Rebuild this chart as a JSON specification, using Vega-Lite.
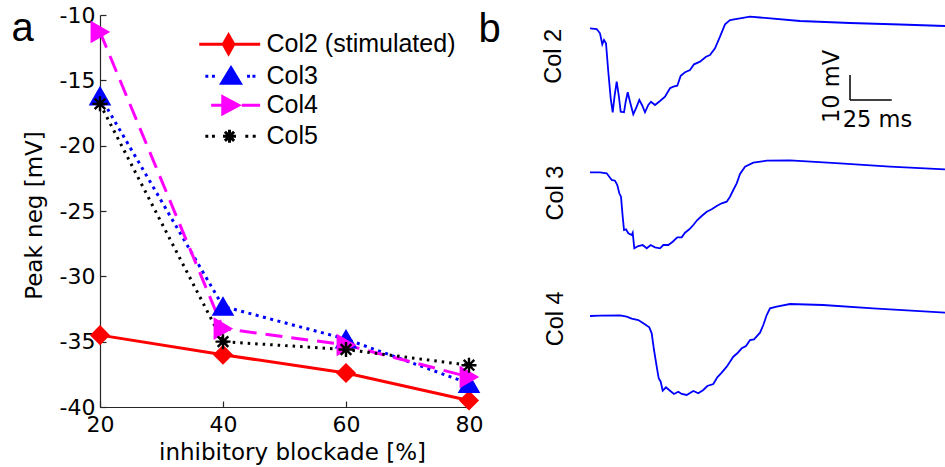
{
  "$schema": "https://vega.github.io/schema/vega-lite/v6.json",
  "autosize": {"type": "none"},
  "padding": {"left": 100, "top": 15, "right": 845, "bottom": 452},
  "background": "white",
  "config": {
    "view": {"stroke": null},
    "font": "DejaVu Sans",
    "axis": {
      "domainColor": "#262626", "domainWidth": 1.2, "tickColor": "#262626", "tickSize": -6, "tickWidth": 1.2,
      "labelFont": "DejaVu Sans", "labelFontSize": 22, "labelColor": "black",
      "titleFont": "DejaVu Sans", "titleFontSize": 23, "titleFontWeight": "normal", "titleColor": "black",
      "grid": false, "labelFlush": false, "labelOverlap": false
    }
  },
  "datasets": {
    "pa": [
      {"series": "Col2 (stimulated)", "blockade": 20, "peak": -34.5},
      {"series": "Col2 (stimulated)", "blockade": 40, "peak": -36.0},
      {"series": "Col2 (stimulated)", "blockade": 60, "peak": -37.4},
      {"series": "Col2 (stimulated)", "blockade": 80, "peak": -39.5},
      {"series": "Col3", "blockade": 20, "peak": -16.2},
      {"series": "Col3", "blockade": 40, "peak": -32.3},
      {"series": "Col3", "blockade": 60, "peak": -34.8},
      {"series": "Col3", "blockade": 80, "peak": -38.2},
      {"series": "Col4", "blockade": 20, "peak": -11.3},
      {"series": "Col4", "blockade": 40, "peak": -34.0},
      {"series": "Col4", "blockade": 60, "peak": -35.25},
      {"series": "Col4", "blockade": 80, "peak": -37.7},
      {"series": "Col5", "blockade": 20, "peak": -16.8},
      {"series": "Col5", "blockade": 40, "peak": -35.0},
      {"series": "Col5", "blockade": 60, "peak": -35.6},
      {"series": "Col5", "blockade": 80, "peak": -36.8}
    ],
    "panelA": [{"label": "a", "blockade": 5.61, "peak": -11.99}],
    "panelB": [{"label": "b", "t": -66.4, "v": -4.68}],
    "c2": [
      {"t": 0, "v": 0.68}, {"t": 3.99, "v": 0.4}, {"t": 5.95, "v": -1.32}, {"t": 7.32, "v": -5.72}, {"t": 8.33, "v": -4},
      {"t": 9.52, "v": -5.32}, {"t": 10.89, "v": -16.68}, {"t": 12.32, "v": -27.32}, {"t": 13.51, "v": -32.92}, {"t": 14.7, "v": -26},
      {"t": 15.89, "v": -20.68}, {"t": 17.08, "v": -26}, {"t": 18.27, "v": -32.68}, {"t": 20.24, "v": -32.92}, {"t": 21.25, "v": -28.68},
      {"t": 22.44, "v": -24.92}, {"t": 23.81, "v": -28.68}, {"t": 25.77, "v": -33.72}, {"t": 27.8, "v": -30.68}, {"t": 29.35, "v": -28},
      {"t": 30.95, "v": -30}, {"t": 32.74, "v": -32.92}, {"t": 34.7, "v": -30}, {"t": 36.31, "v": -28.68}, {"t": 38.69, "v": -30},
      {"t": 41.67, "v": -28.4}, {"t": 44.64, "v": -26.68}, {"t": 47.62, "v": -23.32}, {"t": 49.58, "v": -22.68}, {"t": 51.96, "v": -22.28},
      {"t": 53.99, "v": -18.28}, {"t": 56.55, "v": -16.92}, {"t": 59.52, "v": -16}, {"t": 61.9, "v": -13.72}, {"t": 65.48, "v": -12.68},
      {"t": 69.05, "v": -10.68}, {"t": 71.43, "v": -10}, {"t": 74.4, "v": -7.32}, {"t": 77.38, "v": -2.68}, {"t": 80.36, "v": 2.28},
      {"t": 83.33, "v": 4}, {"t": 89.29, "v": 4.68}, {"t": 95.24, "v": 5.32}, {"t": 101.19, "v": 5.0}, {"t": 125, "v": 3.6},
      {"t": 154.76, "v": 2.8}, {"t": 184.52, "v": 2.2}, {"t": 211.31, "v": 1.6}
    ],
    "c3": [
      {"t": 0, "v": 0.28}, {"t": 5.95, "v": 0.28}, {"t": 9.94, "v": -0.12}, {"t": 12.92, "v": -2.8}, {"t": 14.88, "v": -3.08},
      {"t": 16.25, "v": -4.8}, {"t": 17.44, "v": -8.12}, {"t": 18.45, "v": -9.48}, {"t": 19.46, "v": -17.48}, {"t": 20.24, "v": -22.8},
      {"t": 21.43, "v": -22.52}, {"t": 22.8, "v": -24.12}, {"t": 24.82, "v": -24.8}, {"t": 25.42, "v": -23.88}, {"t": 26.37, "v": -30.12},
      {"t": 28.75, "v": -29.2}, {"t": 31.37, "v": -28.8}, {"t": 33.75, "v": -30.12}, {"t": 36.13, "v": -28.8}, {"t": 38.69, "v": -29.72},
      {"t": 41.67, "v": -30.12}, {"t": 43.63, "v": -28.8}, {"t": 46.61, "v": -28.8}, {"t": 49.23, "v": -27.48}, {"t": 51.96, "v": -25.72},
      {"t": 54.58, "v": -25.72}, {"t": 56.55, "v": -23.88}, {"t": 59.11, "v": -22.52}, {"t": 61.49, "v": -20.8}, {"t": 63.87, "v": -18.8},
      {"t": 66.49, "v": -17.2}, {"t": 69.46, "v": -15.48}, {"t": 72.44, "v": -14.52}, {"t": 75.42, "v": -13.2}, {"t": 78.39, "v": -12.12},
      {"t": 81.37, "v": -11.48}, {"t": 83.33, "v": -9.48}, {"t": 85.3, "v": -6.8}, {"t": 87.32, "v": -4.12}, {"t": 89.29, "v": -0.4},
      {"t": 92.26, "v": 2.52}, {"t": 97.2, "v": 4.12}, {"t": 105.18, "v": 4.92}, {"t": 119.05, "v": 5.08}, {"t": 148.81, "v": 3.88},
      {"t": 178.57, "v": 2.52}, {"t": 211.31, "v": 1.48}
    ],
    "c4": [
      {"t": 0, "v": 0}, {"t": 5.95, "v": 0.12}, {"t": 17.86, "v": 0.28}, {"t": 21.85, "v": -0.28}, {"t": 24.82, "v": -1.08},
      {"t": 28.75, "v": -1.6}, {"t": 31.73, "v": -2.92}, {"t": 35.3, "v": -4.52}, {"t": 36.73, "v": -6.92}, {"t": 38.1, "v": -13.6},
      {"t": 39.7, "v": -20.28}, {"t": 40.89, "v": -24.92}, {"t": 42.08, "v": -26.28}, {"t": 43.27, "v": -29.88}, {"t": 45.24, "v": -28.52},
      {"t": 47.62, "v": -29.88}, {"t": 50, "v": -31.2}, {"t": 52.56, "v": -30.28}, {"t": 54.58, "v": -31.2}, {"t": 57.56, "v": -31.6},
      {"t": 61.49, "v": -30}, {"t": 64.46, "v": -30.92}, {"t": 67.44, "v": -29.6}, {"t": 69.82, "v": -28}, {"t": 73.39, "v": -27.2},
      {"t": 75.77, "v": -24.52}, {"t": 78.39, "v": -22.68}, {"t": 81.37, "v": -20.28}, {"t": 83.33, "v": -18.28}, {"t": 85.3, "v": -16.28},
      {"t": 87.68, "v": -14.92}, {"t": 90.3, "v": -12.92}, {"t": 92.86, "v": -12}, {"t": 95.24, "v": -9.6}, {"t": 97.62, "v": -9.32},
      {"t": 101.19, "v": -6.68}, {"t": 103.15, "v": -3.6}, {"t": 105.18, "v": 0.4}, {"t": 107.14, "v": 3.08}, {"t": 111.13, "v": 3.72},
      {"t": 119.05, "v": 4.8}, {"t": 138.69, "v": 4.4}, {"t": 168.45, "v": 3.08}, {"t": 211.31, "v": 1.32}
    ],
    "bar": [
      {"t": 154.76, "t2": 154.76, "v": -18, "v2": -28},
      {"t": 154.76, "t2": 179.6, "v": -28, "v2": -28}
    ],
    "lblV": [{"t": 144, "v": -22.6, "label": "10 mV"}],
    "lblT": [{"t": 171.1, "v": -36, "label": "25 ms"}]
  },
  "spacing": 121,
  "bounds": "flush",
  "hconcat": [
    {
      "width": 369,
      "height": 392,
      "layer": [
        {
          "data": {"name": "pa"},
          "transform": [{"filter": "datum.series == 'Col2 (stimulated)'"}],
          "mark": {"type": "line", "strokeWidth": 3, "strokeCap": "butt"},
          "encoding": {
            "x": {"field": "blockade", "type": "quantitative", "scale": {"domain": [20, 80], "nice": false, "zero": false},
              "axis": {"values": [20, 40, 60, 80], "title": "inhibitory blockade [%]", "labelPadding": 13, "titleX": 192, "titleY": 45, "titleBaseline": "middle", "titleAlign": "center"}},
            "y": {"field": "peak", "type": "quantitative", "scale": {"domain": [-40, -10], "nice": false, "zero": false},
              "axis": {"values": [-40, -35, -30, -25, -20, -15, -10], "title": "Peak neg [mV]", "labelPadding": 11, "labelExpr": "'' + datum.value", "titleX": -66, "titleY": 200, "titleAngle": 270, "titleBaseline": "middle", "titleAlign": "center"}},
            "color": {"field": "series", "type": "nominal", "scale": {"domain": ["Col2 (stimulated)", "Col3", "Col4", "Col5"], "range": ["#ff0000", "#0000ff", "#ff00ff", "#000000"]},
              "legend": {"title": null, "orient": "none", "legendX": 114.5, "legendY": 14.3, "symbolSize": 729, "symbolStrokeWidth": 3, "labelFont": "Liberation Sans", "labelFontSize": 25, "labelColor": "black", "labelOffset": 22, "labelLimit": 0, "rowPadding": 1, "padding": 0,
                "encode": {"symbols": {"update": {
                  "shape": {"signal": "datum.value == 'Col3' ? 'M-1.79,0H-1.57M-1.3,0H-1.08M1.3,0H1.52M1.7,0H1.92M0.11,-0.63L0.8,0.51L-0.58,0.51Z' : datum.value == 'Col4' ? 'M-1.36,0H-0.61M0.91,0H2.27M-0.5,-0.63L0.68,0L-0.5,0.63Z' : datum.value == 'Col5' ? 'M-1.79,0H-1.57M-1.3,0H-1.08M1.17,0H1.39M1.72,0H1.94M-0.48,0H0.48M0,-0.48V0.48M-0.34,-0.34L0.34,0.34M-0.34,0.34L0.34,-0.34' : 'M-2.24,0H2.27M-0.07,-0.69L0.32,0L-0.07,0.69L-0.46,0Z'"},
                  "fill": {"signal": "datum.value == 'Col3' ? '#0000ff' : datum.value == 'Col4' ? '#ff00ff' : datum.value == 'Col5' ? '#000000' : '#ff0000'"},
                  "stroke": {"signal": "datum.value == 'Col3' ? '#0000ff' : datum.value == 'Col4' ? '#ff00ff' : datum.value == 'Col5' ? '#000000' : '#ff0000'"},
                  "size": {"value": 729}, "strokeWidth": {"value": 3}, "opacity": {"value": 1}, "fillOpacity": {"value": 1}, "strokeOpacity": {"value": 1}
                }}}}}
          }
        },
        {
          "data": {"name": "pa"},
          "transform": [{"filter": "datum.series == 'Col3'"}],
          "mark": {"type": "line", "strokeWidth": 3, "strokeCap": "butt", "color": "#0000ff", "strokeDash": [3, 4.5]},
          "encoding": {"x": {"field": "blockade", "type": "quantitative"}, "y": {"field": "peak", "type": "quantitative"}}
        },
        {
          "data": {"name": "pa"},
          "transform": [{"filter": "datum.series == 'Col4'"}],
          "mark": {"type": "line", "strokeWidth": 3, "strokeCap": "butt", "color": "#ff00ff", "strokeDash": [17, 9]},
          "encoding": {"x": {"field": "blockade", "type": "quantitative"}, "y": {"field": "peak", "type": "quantitative"}}
        },
        {
          "data": {"name": "pa"},
          "transform": [{"filter": "datum.series == 'Col5'"}],
          "mark": {"type": "line", "strokeWidth": 3, "strokeCap": "butt", "color": "#000000", "strokeDash": [2.5, 5]},
          "encoding": {"x": {"field": "blockade", "type": "quantitative"}, "y": {"field": "peak", "type": "quantitative"}}
        },
        {
          "data": {"name": "pa"},
          "transform": [{"filter": "datum.series == 'Col2 (stimulated)'"}],
          "mark": {"type": "point", "shape": "M0,-0.9L0.9,0L0,0.9L-0.9,0Z", "size": 400, "filled": true, "fill": "#ff0000", "stroke": "#ff0000", "strokeWidth": 1.5, "opacity": 1},
          "encoding": {"x": {"field": "blockade", "type": "quantitative"}, "y": {"field": "peak", "type": "quantitative"}}
        },
        {
          "data": {"name": "pa"},
          "transform": [{"filter": "datum.series == 'Col3'"}],
          "mark": {"type": "point", "shape": "triangle-up", "size": 400, "filled": true, "fill": "#0000ff", "stroke": "#0000ff", "strokeWidth": 1.5, "opacity": 1},
          "encoding": {"x": {"field": "blockade", "type": "quantitative"}, "y": {"field": "peak", "type": "quantitative"}}
        },
        {
          "data": {"name": "pa"},
          "transform": [{"filter": "datum.series == 'Col4'"}],
          "mark": {"type": "point", "shape": "triangle-right", "size": 400, "filled": true, "fill": "#ff00ff", "stroke": "#ff00ff", "strokeWidth": 1.5, "opacity": 1},
          "encoding": {"x": {"field": "blockade", "type": "quantitative"}, "y": {"field": "peak", "type": "quantitative"}}
        },
        {
          "data": {"name": "pa"},
          "transform": [{"filter": "datum.series == 'Col5'"}],
          "mark": {"type": "point", "shape": "M-0.75,0H0.75M0,-0.75V0.75M-0.53,-0.53L0.53,0.53M-0.53,0.53L0.53,-0.53", "size": 400, "filled": true, "fill": "#000000", "stroke": "#000000", "strokeWidth": 2.4, "opacity": 1},
          "encoding": {"x": {"field": "blockade", "type": "quantitative"}, "y": {"field": "peak", "type": "quantitative"}}
        },
        {
          "data": {"name": "panelA"},
          "mark": {"type": "text", "align": "left", "baseline": "alphabetic", "font": "Liberation Sans", "fontSize": 40, "color": "black", "clip": false},
          "encoding": {"x": {"field": "blockade", "type": "quantitative"}, "y": {"field": "peak", "type": "quantitative"}, "text": {"field": "label"}}
        }
      ]
    },
    {
      "spacing": 28,
      "bounds": "flush",
      "vconcat": [
        {
          "width": 355, "height": 115,
          "layer": [
            {
              "data": {"name": "c2"},
              "mark": {"type": "line", "color": "#0000ff", "strokeWidth": 1.8},
              "encoding": {
                "x": {"field": "t", "type": "quantitative", "scale": {"domain": [0, 211.3], "nice": false, "zero": false}, "axis": null},
                "y": {"field": "v", "type": "quantitative", "scale": {"domain": [-40, 6], "nice": false, "zero": false},
                  "axis": {"title": "Col 2", "domain": false, "ticks": false, "labels": false, "grid": false, "titleX": -36.5, "titleY": 40.8, "titleAngle": 270, "titleBaseline": "middle", "titleAlign": "center", "titleFont": "Liberation Sans", "titleFontSize": 23.5}}
              }
            },
            {
              "data": {"name": "bar"},
              "mark": {"type": "rule", "color": "black", "strokeWidth": 1.5},
              "encoding": {
                "x": {"field": "t", "type": "quantitative"},
                "x2": {"field": "t2"},
                "y": {"field": "v", "type": "quantitative"},
                "y2": {"field": "v2"}
              }
            },
            {
              "data": {"name": "lblV"},
              "mark": {"type": "text", "angle": 270, "font": "DejaVu Sans", "fontSize": 22.5, "align": "center", "baseline": "middle", "color": "black"},
              "encoding": {
                "x": {"field": "t", "type": "quantitative"},
                "y": {"field": "v", "type": "quantitative"},
                "text": {"field": "label"}
              }
            },
            {
              "data": {"name": "lblT"},
              "mark": {"type": "text", "font": "DejaVu Sans", "fontSize": 22.5, "align": "center", "baseline": "middle", "color": "black"},
              "encoding": {
                "x": {"field": "t", "type": "quantitative"},
                "y": {"field": "v", "type": "quantitative"},
                "text": {"field": "label"}
              }
            },
            {
              "data": {"name": "panelB"},
              "mark": {"type": "text", "align": "left", "baseline": "alphabetic", "font": "Liberation Sans", "fontSize": 40, "color": "black", "clip": false},
              "encoding": {
                "x": {"field": "t", "type": "quantitative"},
                "y": {"field": "v", "type": "quantitative"},
                "text": {"field": "label"}
              }
            }
          ]
        },
        {
          "width": 355, "height": 115,
          "data": {"name": "c3"},
          "mark": {"type": "line", "color": "#0000ff", "strokeWidth": 1.8},
          "encoding": {
            "x": {"field": "t", "type": "quantitative", "scale": {"domain": [0, 211.3], "nice": false, "zero": false}, "axis": null},
            "y": {"field": "v", "type": "quantitative", "scale": {"domain": [-40, 6], "nice": false, "zero": false},
              "axis": {"title": "Col 3", "domain": false, "ticks": false, "labels": false, "grid": false, "titleX": -35, "titleY": 34.5, "titleAngle": 270, "titleBaseline": "middle", "titleAlign": "center", "titleFont": "Liberation Sans", "titleFontSize": 23.5}}
          }
        },
        {
          "width": 355, "height": 115,
          "data": {"name": "c4"},
          "mark": {"type": "line", "color": "#0000ff", "strokeWidth": 1.8},
          "encoding": {
            "x": {"field": "t", "type": "quantitative", "scale": {"domain": [0, 211.3], "nice": false, "zero": false}, "axis": null},
            "y": {"field": "v", "type": "quantitative", "scale": {"domain": [-40, 6], "nice": false, "zero": false},
              "axis": {"title": "Col 4", "domain": false, "ticks": false, "labels": false, "grid": false, "titleX": -35, "titleY": 17.3, "titleAngle": 270, "titleBaseline": "middle", "titleAlign": "center", "titleFont": "Liberation Sans", "titleFontSize": 23.5}}
          }
        }
      ]
    }
  ]
}
